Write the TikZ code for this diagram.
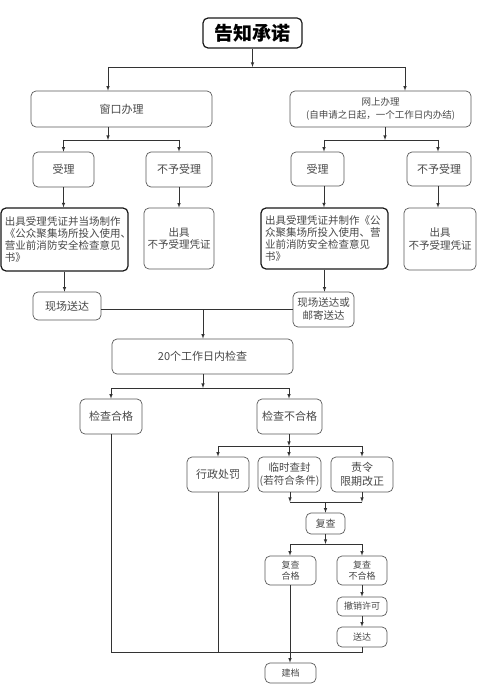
\documentclass[tikz,border=0pt]{standalone}
\usepackage{fontspec}
\newfontfamily\cjk{Noto Sans CJK SC}
\begin{document}
\begin{tikzpicture}[x=1pt,y=-1pt,>=latex,
    box/.style={draw=black!65,line width=0.7pt,rounded corners=5pt,text=black!72,
      font=\cjk\fontsize{11}{13.5}\selectfont,align=center,inner sep=1pt},
    bigbox/.style={box,draw=black!90,line width=1.2pt},
    smallbox/.style={box,font=\cjk\fontsize{9}{11}\selectfont},
    line/.style={draw=black!80,line width=0.6pt}]
      \useasboundingbox (0,0) rectangle (500,687) ;
      % top
      \node[bigbox,minimum width=99pt,minimum height=30pt,text=black,%
        font=\cjk\bfseries\fontsize{19}{21}\selectfont] (title) at (252.5,33) {告知承诺} ;
      \node[box,minimum width=181pt,minimum height=36pt] (win) at (121.5,109) {窗口办理} ;
      \node[box,minimum width=181pt,minimum height=36pt,%
        font=\cjk\fontsize{9.5}{12.5}\selectfont] (net) at (380.5,109)
        {网上办理\\(自申请之日起，一个工作日内办结)} ;
      % window branch
      \node[box,minimum width=61pt,minimum height=35pt] (acc1) at (63.5,169.5) {受理} ;
      \node[box,minimum width=66pt,minimum height=35pt] (rej1) at (179,169.5) {不予受理} ;
      \node[bigbox,minimum width=127pt,minimum height=63pt,align=left,text width=119pt,%
        font=\cjk\fontsize{10.5}{12}\selectfont] (cert1) at (64.5,239.5)
        {出具受理凭证并当场制作\\《公众聚集场所投入使用、\\营业前消防安全检查意见\\书》} ;
      \node[box,minimum width=70pt,minimum height=61pt,%
        font=\cjk\fontsize{10.5}{12.5}\selectfont] (norej1) at (179,238.5) {出具\\不予受理凭证} ;
      \node[box,minimum width=68pt,minimum height=28pt] (deliv1) at (67,306) {现场送达} ;
      % online branch
      \node[box,minimum width=53pt,minimum height=34pt] (acc2) at (317.5,169) {受理} ;
      \node[box,minimum width=64pt,minimum height=34pt] (rej2) at (439,169) {不予受理} ;
      \node[bigbox,minimum width=127pt,minimum height=61pt,align=left,text width=119pt,%
        font=\cjk\fontsize{10.5}{12}\selectfont] (cert2) at (324.5,238.5)
        {出具受理凭证并制作《公\\众聚集场所投入使用、营\\业前消防安全检查意见\\书》} ;
      \node[box,minimum width=72pt,minimum height=62pt,%
        font=\cjk\fontsize{10.5}{12.5}\selectfont] (norej2) at (440,239) {出具\\不予受理凭证} ;
      \node[box,minimum width=61pt,minimum height=35pt,%
        font=\cjk\fontsize{10.5}{13}\selectfont] (deliv2) at (323.5,309.5) {现场送达或\\邮寄送达} ;
      % inspection
      \node[box,minimum width=181pt,minimum height=35pt] (check) at (202.5,356.5) {20个工作日内检查} ;
      \node[box,minimum width=62pt,minimum height=35pt] (pass) at (111,416.5) {检查合格} ;
      \node[box,minimum width=65pt,minimum height=35pt] (fail) at (289.5,416.5) {检查不合格} ;
      \node[box,minimum width=62pt,minimum height=35pt] (pen) at (218,474.5) {行政处罚} ;
      \node[box,minimum width=63pt,minimum height=35pt,%
        font=\cjk\fontsize{10.5}{13.5}\selectfont] (seal) at (289.5,474.5) {临时查封\\(若符合条件)} ;
      \node[box,minimum width=62pt,minimum height=35pt] (fix) at (362,474.5) {责令\\限期改正} ;
      \node[box,minimum width=39pt,minimum height=21pt,%
        font=\cjk\fontsize{10}{12}\selectfont] (recheck) at (325.5,523.5) {复查} ;
      \node[smallbox,minimum width=51pt,minimum height=29pt] (rpass) at (290.5,570.5) {复查\\合格} ;
      \node[smallbox,minimum width=50pt,minimum height=29pt] (rfail) at (362,570.5) {复查\\不合格} ;
      \node[smallbox,minimum width=50pt,minimum height=19pt] (revoke) at (362,606.5) {撤销许可} ;
      \node[smallbox,minimum width=50pt,minimum height=20pt] (serve) at (362,637) {送达} ;
      \node[smallbox,minimum width=51pt,minimum height=20pt] (archive) at (290.5,673) {建档} ;
      % branch points
      \coordinate (s1) at (108,67) ;
      \coordinate (s2) at (405,67) ;
      \coordinate (w0) at (108,140) ;
      \coordinate (n0) at (385,140) ;
      \coordinate (n1) at (324,140) ;
      \coordinate (n2) at (438,140) ;
      \coordinate (d0) at (203,309) ;
      \coordinate (c1) at (111,388) ;
      \coordinate (c2) at (289,388) ;
      \coordinate (f1) at (218,446) ;
      \coordinate (f2) at (362,446) ;
      \coordinate (r1) at (290,502) ;
      \coordinate (r2) at (362,502) ;
      \coordinate (q1) at (290,544) ;
      \coordinate (q2) at (362,544) ;
      \coordinate (e1) at (111,652) ;
      % connectors
      \draw[line,->] (title) -- (title |- s1) ;
      \draw[line] (s1) -- (s2) ;
      \draw[line,->] (s1) -- (s1 |- win.north) ;
      \draw[line,->] (s2) -- (s2 |- net.north) ;
      \draw[line,->] (w0 |- win.south) -- (w0) ;
      \draw[line] (acc1 |- w0) -- (rej1 |- w0) ;
      \draw[line,->] (acc1 |- w0) -- (acc1) ;
      \draw[line,->] (rej1 |- w0) -- (rej1) ;
      \draw[line,->] (acc1.south) -- (acc1.south |- cert1.north) ;
      \draw[line,->] (rej1) -- (norej1) ;
      \draw[line,->] (cert1.south) -- (cert1.south |- deliv1.north) ;
      \draw[line,->] (n0 |- net.south) -- (n0) ;
      \draw[line] (n1) -- (n2) ;
      \draw[line,->] (n1) -- (n1 |- acc2.north) ;
      \draw[line,->] (n2) -- (n2 |- rej2.north) ;
      \draw[line,->] (n1 |- acc2.south) -- (n1 |- cert2.north) ;
      \draw[line,->] (n2 |- rej2.south) -- (n2 |- norej2.north) ;
      \draw[line,->] (cert2.south) -- (cert2.south |- deliv2.north) ;
      \draw[line] (deliv1.east |- d0) -- (deliv2.west |- d0) ;
      \draw[line,->] (d0) -- (d0 |- check.north) ;
      \draw[line,->] (check.south -| d0) -- (d0 |- c1) ;
      \draw[line] (c1) -- (c2) ;
      \draw[line,->] (c1) -- (c1 |- pass.north) ;
      \draw[line,->] (c2) -- (c2 |- fail.north) ;
      \draw[line,->] (c2 |- fail.south) -- (c2 |- f1) ;
      \draw[line] (f1) -- (f2) ;
      \draw[line,->] (f1) -- (f1 |- pen.north) ;
      \draw[line,->] (f1 -| c2) -- (c2 |- seal.north) ;
      \draw[line,->] (f2) -- (f2 |- fix.north) ;
      \draw[line,->] (r1 |- seal.south) -- (r1) ;
      \draw[line,->] (r2 |- fix.south) -- (r2) ;
      \draw[line] (r1) -- (r2) ;
      \draw[line,->] (recheck |- r1) -- (recheck) ;
      \draw[line,->] (recheck) -- (recheck |- q1) ;
      \draw[line] (q1) -- (q2) ;
      \draw[line,->] (q1) -- (q1 |- rpass.north) ;
      \draw[line,->] (q2) -- (q2 |- rfail.north) ;
      \draw[line,->] (rfail) -- (revoke) ;
      \draw[line,->] (revoke) -- (serve) ;
      \draw[line,->] (q1 |- rpass.south) -- (q1 |- archive.north) ;
      \draw[line] (pass) -- (e1) -- (serve.south |- e1) -- (serve.south) ;
      \draw[line] (pen) -- (pen |- e1) ;
    \end{tikzpicture}
\end{document}
